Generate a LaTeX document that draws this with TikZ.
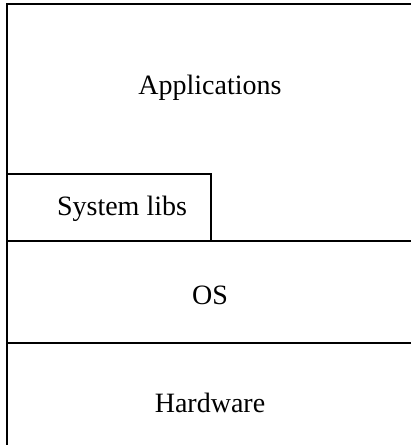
\documentclass[tikz,border=0pt]{standalone}
\usepackage{fontspec}
\setmainfont{Liberation Serif}
\begin{document}
\begin{tikzpicture}[x=0.5pt,y=-0.5pt,line width=0.9pt,
	layer/.style={font=\fontsize{14}{16}\selectfont,inner sep=0pt}]
			\useasboundingbox (0,0) rectangle (411,445);
			\draw (7,446) -- (7,4) -- (412,4);
			\draw (7,174) -- (211,174) -- (211,241);
			\draw (7,241) -- (412,241);
			\draw (7,343) -- (412,343);
			\node[layer] (apps) at (210,88) {Applications};
			\node[layer] (libs) at (122,209) {System libs};
			\node[layer] (os) at (210,295) {OS};
			\node[layer] (hw) at (210,403) {Hardware};
		\end{tikzpicture}
\end{document}
